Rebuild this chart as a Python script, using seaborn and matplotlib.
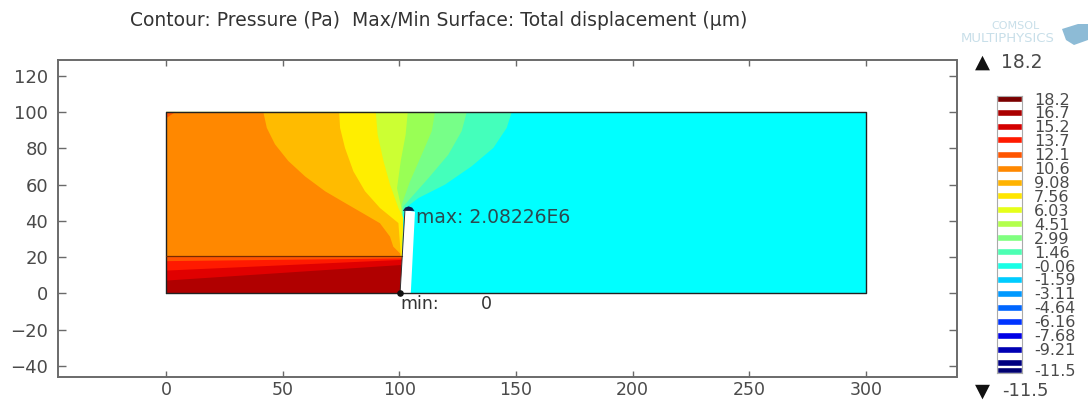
import matplotlib
matplotlib.use("Agg")
import matplotlib.pyplot as plt
import pandas as pd
import seaborn as sns

sns.set_theme(style="ticks")
plt.rcParams['font.family'] = ['DejaVu Sans']

# Field outline
domain_x = [0, 300, 300, 0, 0]
domain_y = [0, 0, 100, 100, 0]

# Contour boundaries of the surface plot (x, y)
seafoam_x = [148.2, 146, 140.3, 131, 119.6, 108.2, 101.7]
seafoam_y = [100, 91.2, 80.2, 70.1, 60, 52.6, 46.2]
lightgreen_x = [128.9, 126.7, 121, 112.5, 101.7]
lightgreen_y = [100, 89.4, 76.5, 63.6, 48]
green_x = [115.3, 113.9, 109.6, 104.6, 101]
green_y = [100, 89.4, 76.5, 61.8, 49]
lime_x = [103.6, 102.7, 100.6, 99, 101]
lime_y = [100, 87.5, 73, 58, 46.2]
yellow_x = [89.9, 90.7, 93.2, 96, 99.6, 101.7]
yellow_y = [100, 87.5, 73, 60, 47.1, 41.6]
amber_x = [74.2, 74.6, 76.7, 80.3, 85.3, 91.7, 99.6]
amber_y = [100, 91.2, 80.2, 67.3, 56.3, 47.1, 38.8]
orange_x = [41.7, 43.2, 46.7, 52.4, 59.6, 68.2, 76.7, 85.3, 91.7, 96, 97.4, 100.3]
orange_y = [100, 91.2, 82.2, 73, 64.5, 56.3, 49.9, 43.5, 38.7, 31.3, 25.8, 22.1]

# Pressurised lower layer
layer_top = [20.4, 20.4]
band1_y = [18.1, 19.6]
band2_y = [12.9, 18.8]
band3_y = [7.4, 16]
layer_x = [0, 101]

corner_x = [0, 4, 0]
corner_y = [100, 100, 96.5]

crack_x = [100.3, 104.9, 106.7, 102.4]
crack_y = [0, 0, 45, 46]
cap_x = [101.5, 102.5, 104, 105.5, 106.5]
cap_y = [45.5, 47.3, 48, 47.3, 45.5]

x_ticks = [0, 50, 100, 150, 200, 250, 300]
y_ticks = [-40, -20, 0, 20, 40, 60, 80, 100, 120]

level_values = [18.2, 16.7, 15.2, 13.7, 12.1, 10.6, 9.08, 7.56, 6.03, 4.51,
                2.99, 1.46, -0.06, -1.59, -3.11, -4.64, -6.16, -7.68, -9.21, -10.7, -11.5]
level_labels = ['18.2', '16.7', '15.2', '13.7', '12.1', '10.6', '9.08', '7.56', '6.03', '4.51',
                '2.99', '1.46', '-0.06', '-1.59', '-3.11', '-4.64', '-6.16', '-7.68', '-9.21', '', '-11.5']
level_colors = ['#7a0000', '#aa0000', '#d40000', '#ff1a00', '#ff5500', '#ff8800', '#ffb300',
                '#ffe600', '#e6ff1a', '#b3ff4d', '#80ff80', '#4dffb3', '#1affe6', '#00ccff',
                '#0099ff', '#0066ff', '#0033ff', '#0000e6', '#0000b3', '#000080', '#000070']

W, H = 1089, 400
GREY = '#6a6a6a'
TXT = '#4a4a4a'
fig = plt.figure(figsize=(W / 100, H / 100), dpi=100, facecolor='white')
ax = fig.add_axes([58 / W, 1 - 377 / H, (956.5 - 58) / W, (377 - 59.5) / H])

# Surface: painter's order from the far side of the crack to the near side
ax.fill(domain_x, domain_y, color='#00ffff', lw=0, zorder=1)
regions = [(seafoam_x, seafoam_y, '#44ffbb'), (lightgreen_x, lightgreen_y, '#77ff88'),
           (green_x, green_y, '#99ff55'), (lime_x, lime_y, '#ccff33'),
           (yellow_x, yellow_y, '#ffee00'), (amber_x, amber_y, '#ffbb00'),
           (orange_x, orange_y, '#ff8800')]
for rx, ry, col in regions:
    ax.fill(rx + [101, 0, 0], ry + [15, 15, 100], color=col, lw=0, zorder=2)
ax.fill_between(layer_x, [0, 0], layer_top, color='#ff5500', lw=0, zorder=3)
ax.fill_between(layer_x, [0, 0], band1_y, color='#ff1a00', lw=0, zorder=3)
ax.fill_between(layer_x, [0, 0], band2_y, color='#e00000', lw=0, zorder=3)
ax.fill_between(layer_x, [0, 0], band3_y, color='#b00000', lw=0, zorder=3)
ax.fill(corner_x, corner_y, color='#ff5500', lw=0, zorder=3)
ax.fill(crack_x, crack_y, color='white', lw=0, zorder=4)
ax.fill(cap_x, cap_y, color='#0a1a50', lw=0, zorder=5)

sns.lineplot(x=domain_x, y=domain_y, sort=False, estimator=None, color='#222222',
             lw=1.0, ax=ax, zorder=6)
sns.lineplot(x=layer_x, y=layer_top, sort=False, estimator=None, color='#7a2a00',
             lw=0.9, ax=ax, zorder=6)
sns.lineplot(x=[crack_x[0], crack_x[3]], y=[crack_y[0], crack_y[3]], sort=False, estimator=None,
             color='#333333', lw=0.7, ax=ax, zorder=6)
ax.scatter([100.3], [0], s=14, color='#111111', zorder=7)

ax.set_xlim(-46.3, 338.8)
ax.set_ylim(-46, 128.9)
ax.set_xticks(x_ticks)
ax.set_yticks(y_ticks)
ax.tick_params(axis='x', direction='in', length=4.5, width=1.0, color=GREY, top=True,
               labelsize=12.5, labelcolor=TXT, pad=3)
ax.tick_params(axis='y', direction='in', length=6, width=1.0, color=GREY, right=True,
               labelsize=13, labelcolor=TXT, pad=7)
for s in ax.spines.values():
    s.set_visible(True)
    s.set_color(GREY)
    s.set_linewidth(1.4)

ax.text(107, 42, 'max: 2.08226E6', fontsize=13.5, color='#2c4a50', va='center', zorder=8)
ax.text(100.5, -6, 'min:', fontsize=12.5, color='#333333', va='center')
ax.text(135, -6, '0', fontsize=12.5, color='#333333', va='center')

# Colour legend
cax = fig.add_axes([997 / W, 1 - 373 / H, (1021.7 - 997) / W, (373 - 96) / H])
bars = pd.DataFrame({'level': level_values, 'value': [1] * len(level_values),
                     'key': [str(v) for v in level_values]})
sns.barplot(data=bars, y='level', x='value', hue='key', orient='h', native_scale=True,
            palette=dict(zip(bars['key'], level_colors)), width=0.95, legend=False,
            saturation=1, ax=cax)
cax.set_xlim(0, 1)
cax.set_ylim(-11.83, 18.5)
cax.set_xticks([])
cax.set_xlabel('')
cax.set_ylabel('')
cax.yaxis.tick_right()
cax.set_yticks([v for v, l in zip(level_values, level_labels) if l],
               [l for l in level_labels if l])
cax.tick_params(axis='y', length=0, pad=9, labelsize=11.5, labelcolor=TXT)
for s in cax.spines.values():
    s.set_visible(True)
    s.set_color('#aaaaaa')
    s.set_linewidth(0.8)

# Title, range markers, logo
fig.text(130 / W, 1 - 20 / H, 'Contour: Pressure (Pa)  Max/Min Surface: Total displacement (µm)',
         fontsize=13.5, color='#333333', va='center', ha='left')
fig.text(975 / W, 1 - 62 / H, '▲', fontsize=14, color='#111111', va='center')
fig.text(1001 / W, 1 - 62 / H, '18.2', fontsize=13.5, color=TXT, va='center')
fig.text(975 / W, 1 - 391 / H, '▼', fontsize=14, color='#111111', va='center')
fig.text(1002 / W, 1 - 391 / H, '-11.5', fontsize=13, color=TXT, va='center')
fig.text(1015 / W, 1 - 26 / H, 'COMSOL', fontsize=8, color='#c8dfe9', va='center', ha='center')
fig.text(1055 / W, 1 - 38.5 / H, 'MULTIPHYSICS', fontsize=9.5, color='#c8dfe9', va='center', ha='right')
logo_x = [1062, 1078, 1088, 1088, 1074, 1066]
logo_y = [29, 24, 24, 40, 45, 40]
fig.add_artist(plt.Polygon([(x / W, 1 - y / H) for x, y in zip(logo_x, logo_y)],
                           closed=True, transform=fig.transFigure, color='#8dbbd6', lw=0))

fig.savefig('out.png', dpi=100, facecolor='white')
